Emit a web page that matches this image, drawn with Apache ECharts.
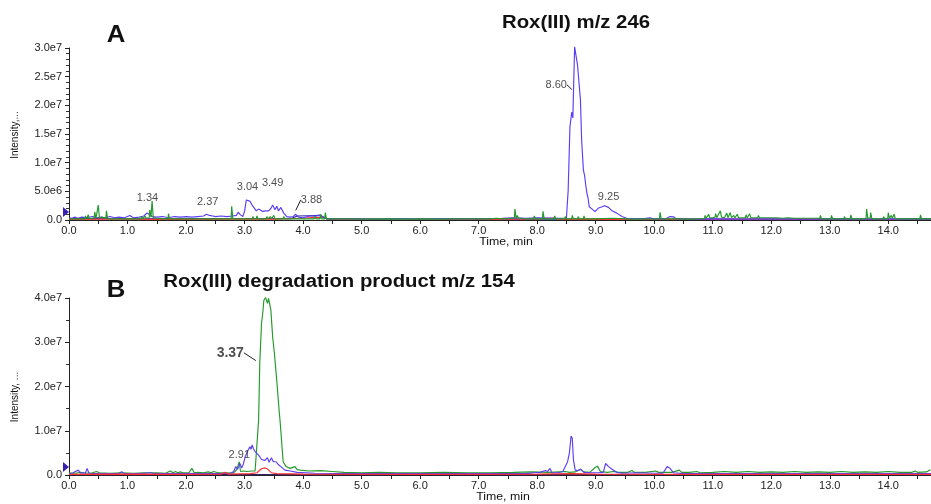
<!DOCTYPE html>
<html><head><meta charset="utf-8">
<script src="https://cdn.jsdelivr.net/npm/echarts@6/dist/echarts.min.js"></script>
<style>html,body{margin:0;padding:0;background:#fff}#c{width:931px;height:504px}</style>
</head><body><div id="c"></div>
<script>
// ---------- DATA (intensity in units of 1e6) ----------
// Panel A: Rox(III) m/z 246
var blueA_t = [0.00,0.05,0.10,0.15,0.22,0.30,0.40,0.48,0.55,0.62,0.70,0.78,0.85,0.95,1.04,1.10,1.20,1.28,1.33,1.37,1.42,1.50,1.60,1.70,1.80,1.90,2.00,2.10,2.20,2.30,2.35,2.40,2.50,2.60,2.70,2.80,2.86,2.89,2.93,2.97,3.00,3.03,3.05,3.09,3.13,3.16,3.20,3.24,3.27,3.31,3.36,3.41,3.45,3.48,3.52,3.55,3.58,3.62,3.67,3.72,3.78,3.83,3.87,3.92,4.00,4.08,4.15,4.22,4.27,4.33,4.40,4.50,4.80,5.20,5.60,6.00,6.50,7.00,7.40,7.60,7.80,8.00,8.20,8.30,8.40,8.50,8.53,8.56,8.59,8.61,8.64,8.66,8.69,8.71,8.74,8.76,8.79,8.81,8.83,8.85,8.87,8.89,8.94,8.99,9.05,9.11,9.15,9.22,9.28,9.36,9.45,9.53,9.65,9.80,9.93,9.98,10.20,10.27,10.33,10.38,10.60,11.00,11.50,12.00,12.50,13.00,13.50,14.00,14.73];
var blueA_v = [0.4,0.3,0.5,0.3,0.5,0.4,0.6,0.4,0.5,0.4,0.6,0.4,0.5,0.4,0.8,0.4,0.5,0.7,1.2,1.0,0.6,0.5,0.6,0.4,0.6,0.5,0.6,0.5,0.6,0.7,1.0,0.8,0.6,0.7,0.6,0.7,0.8,1.35,0.9,0.6,1.5,3.5,3.66,3.3,2.6,2.3,1.6,1.9,2.0,1.5,1.6,1.6,2.0,2.6,1.8,2.4,1.6,2.2,1.2,0.6,0.5,0.6,1.0,0.5,0.4,0.6,0.75,0.7,0.85,0.6,0.2,0.2,0.2,0.15,0.2,0.15,0.2,0.2,0.3,0.4,0.3,0.4,0.35,0.3,0.3,0.35,5.2,16.2,18.8,17.8,30.2,30.5,27.0,26.7,20.9,14.0,8.7,7.8,6.1,4.7,3.8,2.3,1.9,1.45,2.1,2.3,2.5,2.2,1.6,1.2,0.6,0.3,0.25,0.2,0.4,0.2,0.2,0.6,0.55,0.2,0.15,0.2,0.15,0.2,0.15,0.2,0.15,0.2,0.15];

var greenA_t = [0.00,0.04,0.05,0.07,0.17,0.18,0.20,0.27,0.28,0.30,0.32,0.33,0.35,0.39,0.40,0.42,0.43,0.44,0.46,0.49,0.50,0.52,0.55,0.56,0.58,0.63,0.64,0.66,0.71,0.72,0.74,0.80,0.81,0.83,0.89,0.90,0.92,1.04,1.05,1.07,1.14,1.15,1.17,1.23,1.24,1.26,1.29,1.30,1.32,1.37,1.38,1.40,1.41,1.42,1.44,1.49,1.50,1.52,1.61,1.62,1.64,1.69,1.70,1.72,1.79,1.80,1.82,1.97,1.98,2.00,2.09,2.10,2.12,2.24,2.25,2.27,2.41,2.42,2.44,2.54,2.55,2.57,2.64,2.65,2.67,2.77,2.78,2.80,2.87,2.88,2.90,2.94,2.95,2.97,3.06,3.07,3.09,3.13,3.14,3.16,3.20,3.21,3.23,3.29,3.30,3.32,3.37,3.38,3.40,3.43,3.44,3.46,3.49,3.50,3.52,3.57,3.58,3.60,3.66,3.67,3.69,3.79,3.80,3.82,3.94,3.95,3.97,4.09,4.10,4.12,4.19,4.20,4.22,4.29,4.30,4.32,4.37,4.38,4.40,4.49,4.50,4.52,4.80,5.10,5.40,5.70,6.00,6.30,6.60,6.90,7.20,7.30,7.32,7.44,7.45,7.47,7.54,7.55,7.57,7.61,7.62,7.64,7.65,7.66,7.68,7.74,7.75,7.77,7.84,7.85,7.87,7.94,7.95,7.97,8.09,8.10,8.12,8.19,8.20,8.22,8.29,8.30,8.32,8.39,8.40,8.42,8.47,8.48,8.50,8.59,8.60,8.62,8.69,8.70,8.72,8.79,8.80,8.82,8.89,8.90,8.92,8.99,9.00,9.02,9.30,9.32,9.59,9.60,9.62,9.79,9.80,9.82,10.09,10.10,10.12,10.39,10.40,10.42,10.59,10.60,10.62,10.74,10.75,10.77,10.86,10.87,10.89,10.92,10.93,10.95,10.97,10.98,11.00,11.04,11.05,11.07,11.10,11.13,11.15,11.17,11.18,11.20,11.23,11.24,11.26,11.29,11.30,11.32,11.35,11.36,11.38,11.41,11.42,11.44,11.49,11.50,11.52,11.56,11.57,11.59,11.62,11.63,11.65,11.69,11.70,11.72,11.77,11.78,11.80,11.84,11.85,11.87,11.92,11.93,11.95,11.99,12.00,12.02,12.09,12.10,12.12,12.19,12.20,12.22,12.29,12.30,12.32,12.39,12.40,12.42,12.51,12.52,12.54,12.61,12.62,12.64,12.74,12.75,12.77,12.83,12.84,12.86,12.91,12.92,12.94,13.02,13.03,13.05,13.14,13.15,13.17,13.24,13.25,13.27,13.35,13.36,13.38,13.44,13.45,13.47,13.62,13.63,13.65,13.69,13.70,13.72,13.79,13.80,13.82,13.91,13.92,13.94,13.99,14.00,14.02,14.04,14.05,14.07,14.09,14.10,14.12,14.19,14.20,14.22,14.34,14.35,14.37,14.54,14.55,14.57,14.64,14.65,14.67,14.73];
var greenA_v = [0.2,0.2,0.5,0.15,0.2,0.4,0.15,0.2,0.7,0.2,0.3,0.9,0.2,0.3,0.6,0.2,0.4,1.4,0.3,0.4,2.6,0.3,0.3,0.5,0.2,0.3,1.6,0.2,0.2,0.5,0.2,0.2,0.5,0.2,0.2,0.4,0.2,0.2,0.4,0.2,0.2,0.5,0.2,0.2,0.6,0.2,0.3,0.7,0.3,0.4,1.75,0.5,0.6,3.3,0.4,0.3,0.6,0.2,0.2,0.5,0.2,0.2,1.1,0.2,0.2,0.4,0.2,0.2,0.5,0.2,0.2,0.4,0.2,0.2,0.5,0.2,0.2,0.4,0.2,0.2,0.4,0.2,0.2,0.5,0.2,0.2,2.4,0.2,0.2,0.5,0.2,0.2,0.4,0.2,0.2,0.5,0.2,0.2,0.6,0.2,0.2,0.7,0.2,0.2,0.5,0.2,0.2,0.6,0.2,0.2,0.6,0.2,0.2,0.8,0.2,0.2,0.5,0.2,0.2,0.6,0.2,0.2,0.4,0.2,0.2,0.5,0.2,0.2,0.5,0.2,0.2,0.6,0.2,0.2,1.0,0.2,0.2,1.3,0.2,0.2,0.4,0.15,0.2,0.15,0.2,0.15,0.2,0.15,0.2,0.2,0.2,0.3,0.2,0.2,0.4,0.2,0.3,0.6,0.3,0.3,1.9,0.3,0.4,0.8,0.3,0.3,0.6,0.2,0.2,0.5,0.2,0.2,0.7,0.2,0.2,1.5,0.2,0.2,0.5,0.2,0.2,0.7,0.2,0.2,0.5,0.2,0.2,0.6,0.2,0.2,0.8,0.2,0.2,0.6,0.2,0.2,0.7,0.2,0.2,0.5,0.2,0.2,0.4,0.2,0.3,0.15,0.15,0.3,0.15,0.15,0.4,0.15,0.2,1.35,0.2,0.2,0.3,0.15,0.15,0.25,0.15,0.2,0.4,0.2,0.3,0.8,0.3,0.4,1.0,0.4,0.4,0.7,0.4,0.5,1.1,0.4,0.5,1.6,0.5,0.4,0.8,0.4,0.5,1.2,0.4,0.5,1.3,0.4,0.4,0.8,0.4,0.5,1.0,0.4,0.4,0.7,0.4,0.4,0.9,0.4,0.5,1.1,0.4,0.4,0.7,0.4,0.4,0.8,0.4,0.4,0.6,0.4,0.4,0.7,0.4,0.4,0.6,0.4,0.4,0.6,0.4,0.3,0.5,0.3,0.4,0.6,0.3,0.3,0.5,0.3,0.3,0.6,0.3,0.3,0.5,0.3,0.3,0.6,0.3,0.3,0.8,0.2,0.2,0.4,0.2,0.2,0.8,0.2,0.2,0.4,0.2,0.2,0.6,0.2,0.2,0.9,0.2,0.2,0.5,0.2,0.2,1.9,0.3,0.3,1.3,0.2,0.2,0.5,0.2,0.2,0.6,0.2,0.2,1.3,0.3,0.3,0.8,0.3,0.3,1.0,0.2,0.2,0.5,0.2,0.2,0.5,0.2,0.2,0.9,0.2,0.2,0.4,0.2,0.2];

var redA_t = [0.00,0.60,1.00,1.50,2.00,2.60,3.00,3.50,4.00,4.20,4.35,4.45,5.50,7.00,8.00,8.30,8.35,9.50,11.00,12.50,14.73];
var redA_v = [0.1,0.15,0.15,0.1,0.1,0.15,0.2,0.15,0.3,0.45,0.4,0.1,0.1,0.1,0.2,0.35,0.1,0.1,0.1,0.1,0.1];

var navyA_t = [0.00,1.50,3.00,3.80,3.90,4.10,4.30,4.40,8.00,11.00,14.73];
var navyA_v = [0.25,0.2,0.25,0.25,0.7,0.75,0.8,0.2,0.15,0.15,0.15];

// Panel B: Rox(III) degradation product m/z 154
var greenB_t = [0.00,0.10,0.20,0.30,0.40,0.47,0.52,0.70,0.90,1.10,1.30,1.50,1.65,1.73,1.78,1.82,1.86,1.90,1.95,2.05,2.10,2.14,2.20,2.30,2.38,2.43,2.47,2.55,2.70,2.81,2.87,2.91,2.93,2.98,3.04,3.12,3.18,3.21,3.24,3.26,3.29,3.31,3.33,3.36,3.39,3.41,3.45,3.48,3.51,3.55,3.59,3.61,3.64,3.66,3.71,3.78,3.86,3.90,3.95,4.10,4.30,4.50,4.70,5.00,5.30,5.60,6.00,6.40,6.80,7.20,7.60,7.90,8.20,8.48,8.55,8.65,8.74,8.80,8.90,8.99,9.03,9.08,9.20,9.30,9.40,9.55,9.62,9.66,9.85,10.02,10.08,10.30,10.43,10.47,10.60,10.73,10.78,11.00,11.20,11.40,11.60,11.80,12.00,12.20,12.40,12.60,12.80,13.00,13.20,13.40,13.60,13.80,14.00,14.20,14.40,14.46,14.50,14.65,14.72];
var greenB_v = [0.5,0.4,0.6,0.4,0.5,0.8,0.5,0.4,0.5,0.4,0.5,0.5,0.4,0.9,0.5,0.8,0.5,0.7,0.5,0.5,1.5,0.5,0.6,0.5,0.7,0.5,0.8,0.5,0.5,0.4,1.3,3.0,0.8,0.9,0.8,0.9,0.9,1.1,12.4,25.3,34.3,36.5,39.5,40.1,38.8,39.9,37.2,31.2,27.5,21.4,14.7,11.7,6.4,3.0,1.9,1.5,1.9,1.2,1.1,0.9,1.0,0.8,0.6,0.5,0.6,0.5,0.5,0.6,0.5,0.5,0.6,0.7,0.6,0.8,0.6,0.7,1.3,0.7,0.6,1.7,2.0,0.8,0.6,0.8,0.6,0.6,1.0,0.6,0.6,0.9,0.6,0.6,1.1,0.6,0.6,0.8,0.5,0.6,0.8,0.6,0.8,0.6,0.7,0.6,0.8,0.6,0.7,0.6,0.8,0.6,0.7,0.6,0.8,0.6,0.6,0.9,0.6,0.7,1.2];

var blueB_t = [0.00,0.06,0.10,0.13,0.16,0.20,0.24,0.28,0.31,0.34,0.45,0.60,0.85,0.90,0.94,1.20,1.41,1.45,2.00,2.50,2.75,2.81,2.85,2.88,2.92,2.95,2.98,3.01,3.05,3.09,3.11,3.13,3.15,3.18,3.21,3.24,3.29,3.32,3.35,3.39,3.42,3.46,3.49,3.54,3.58,3.62,3.69,3.78,3.90,4.20,5.00,6.00,7.00,7.82,7.95,8.05,8.14,8.18,8.22,8.25,8.36,8.44,8.48,8.52,8.55,8.58,8.60,8.62,8.65,8.70,8.74,8.80,8.90,9.05,9.13,9.17,9.22,9.28,9.36,9.45,9.70,10.00,10.15,10.22,10.27,10.33,10.50,11.00,14.73];
var blueB_v = [0.3,0.4,0.75,0.4,1.1,0.4,0.5,0.4,1.5,0.4,0.3,0.3,0.3,0.75,0.3,0.3,0.5,0.3,0.3,0.3,0.4,0.7,1.9,1.3,2.6,1.6,2.5,4.1,5.3,6.4,5.8,6.8,6.0,5.3,5.0,4.5,3.5,3.7,3.3,3.9,2.9,3.9,3.0,3.0,2.3,1.9,1.1,0.9,0.6,0.4,0.3,0.3,0.3,0.3,0.5,0.6,1.0,0.8,1.5,0.5,0.5,0.8,1.9,3.0,4.9,8.8,8.3,3.4,1.1,1.0,1.3,0.6,0.5,0.5,0.6,2.6,1.9,1.3,0.6,0.4,0.5,0.4,0.4,1.9,1.5,0.5,0.3,0.3,0.3];

var redB_t = [0.00,1.00,2.00,2.60,2.67,2.72,3.10,3.21,3.29,3.35,3.39,3.46,3.55,4.00,6.00,8.00,8.60,9.00,11.00,14.73];
var redB_v = [0.15,0.2,0.15,0.2,0.6,0.2,0.3,0.5,1.4,1.6,1.4,0.5,0.3,0.2,0.15,0.2,0.3,0.2,0.15,0.15];

var navyB_t = [0.00,14.73];
var navyB_v = [0.1,0.1];

// Peak labels: anchor time, anchor intensity, text
var peakA_t = [1.34, 2.37, 3.05, 3.48, 3.87, 8.60, 9.22];
var peakA_v = [1.2, 1.0, 3.66, 2.6, 1.6, 22.7, 2.2];
var peakA_txt = ['1.34','2.37','3.04','3.49','3.88','8.60','9.25'];
var peakB_t = [3.20, 2.91];
var peakB_v = [25.8, 3.0];
var peakB_txt = ['3.37','2.91'];

var xTickMax = 14.73;
var yMaxA = 30, yMaxB = 40;

// ---------- BUILD ----------
function pairs(t, v){ return t.map(function(x,i){ return [x, v[i]]; }); }
var FONT = 'Liberation Sans, Arial, sans-serif';
var C_BLUE = '#5b3ef4', C_GREEN = '#23992b', C_RED = '#ff3030', C_NAVY = '#2323a8';

function yFmt(v){
  if (v === 0) return '0.0';
  if (Math.abs(v / 5 - Math.round(v / 5)) > 1e-6) return '';
  return (v * 1e6).toExponential(1).replace('e+', 'e');
}
function xAxisCfg(gi){
  return {
    type:'value', gridIndex:gi, min:0, max:xTickMax, interval:0.5,
    axisLine:{show:true, onZero:false, lineStyle:{color:'#222', width:1}},
    axisTick:{show:true, length:4, lineStyle:{color:'#222'}},
    axisLabel:{interval:0, color:'#222', fontSize:11, fontFamily:FONT, margin:5, showMaxLabel:false,
      formatter:function(v){ return Math.abs(v - Math.round(v)) < 1e-6 ? v.toFixed(1) : ''; }},
    splitLine:{show:false}
  };
}
function yAxisCfg(gi, max, interval, minorSplit){
  return {
    type:'value', gridIndex:gi, min:0, max:max, interval:interval,
    axisLine:{show:true, lineStyle:{color:'#222', width:1}},
    axisTick:{show:true, length:4, lineStyle:{color:'#222'}},
    minorTick:{show:true, splitNumber:minorSplit, length:3, lineStyle:{color:'#333', width:1}},
    axisLabel:{color:'#222', fontSize:11, fontFamily:FONT, margin:7, formatter:yFmt},
    splitLine:{show:false}
  };
}
function trace(name, gi, t, v, color, z){
  return {type:'line', name:name, xAxisIndex:gi, yAxisIndex:gi, data:pairs(t,v), showSymbol:false, symbol:'none',
    clip:false, z:z, lineStyle:{color:color, width:1.15}, itemStyle:{color:color}, animation:false, silent:true};
}
function labelSeries(gi, t, v, txt, offs, leaders, fontCfg){
  return {
    type:'scatter', xAxisIndex:gi, yAxisIndex:gi, symbolSize:1, z:20, silent:true, animation:false,
    itemStyle:{color:'rgba(0,0,0,0)'},
    data:t.map(function(x,i){
      return {value:[x, v[i]], name:txt[i],
        labelLine:{show:!!leaders[i], lineStyle:{color:'#222', width:1}}};
    }),
    label:{show:true, position:'inside', formatter:'{b}', color:'#222', fontFamily:FONT,
      fontSize:fontCfg.size, fontWeight:fontCfg.weight},
    labelLayout:function(p){ var o = offs[p.dataIndex]; return {dx:o[0], dy:o[1]}; },
    labelLine:{show:false, smooth:false, length2:0}
  };
}
function gText(text, x, y, size, bold, sx, rot){
  return {type:'text', x:x, y:y, scaleX:sx || 1, rotation:rot || 0, z:50,
    style:{text:text, fill:'#111', font:(bold ? 'bold ' : '') + size + 'px ' + FONT,
      textAlign:'center', textVerticalAlign:'middle'}};
}

var chart = echarts.init(document.getElementById('c'), null, {renderer:'canvas'});
var option = {
  backgroundColor:'#fff',
  animation:false,
  graphic:[
    gText('A', 116, 36, 23, true, 1.12),
    gText('Rox(III) m/z 246', 576, 23, 18, true, 1.13),
    gText('B', 116, 291, 23, true, 1.12),
    gText('Rox(III) degradation product m/z 154', 339, 282, 18, true, 1.13),
    gText('Time, min', 506, 242, 11, false, 1.12),
    gText('Time, min', 503, 497, 11, false, 1.12),
    gText('Intensity,...', 15, 135, 10, false, 1, Math.PI/2),
    gText('Intensity, ...', 15, 397, 10, false, 1, Math.PI/2),
    {type:'polygon', shape:{points:[[63,207],[63,217],[69,212]]}, style:{fill:'#3a1fb0'}},
    {type:'polygon', shape:{points:[[63,462],[63,472],[69,467]]}, style:{fill:'#3a1fb0'}}
  ],
  grid:[
    {left:69, right:0, top:48, height:172},
    {left:69, right:0, top:298, height:177}
  ],
  xAxis:[xAxisCfg(0), xAxisCfg(1)],
  yAxis:[yAxisCfg(0, yMaxA, 5, 5), yAxisCfg(1, yMaxB, 10, 2)],
  series:[
    trace('navyA', 0, navyA_t, navyA_v, C_NAVY, 2),
    trace('redA', 0, redA_t, redA_v, C_RED, 3),
    trace('blueA', 0, blueA_t, blueA_v, C_BLUE, 4),
    trace('greenA', 0, greenA_t, greenA_v, C_GREEN, 5),
    trace('navyB', 1, navyB_t, navyB_v, '#3a2060', 2),
    trace('greenB', 1, greenB_t, greenB_v, C_GREEN, 3),
    trace('blueB', 1, blueB_t, blueB_v, C_BLUE, 4),
    trace('redB', 1, redB_t, redB_v, C_RED, 5),
    labelSeries(0, peakA_t, peakA_v, peakA_txt,
      [[0,-15],[0,-12],[0,-12],[0,-22],[16,-11],[-16,-5],[0,-10]],
      [0,0,0,0,1,1,0], {size:11, weight:'normal'}),
    labelSeries(1, peakB_t, peakB_v, peakB_txt,
      [[-26,-8],[0,-7]], [1,0], {size:14, weight:'bold'})
  ]
};
option.series[9].data[1].label = {fontSize:11, fontWeight:'normal'};
chart.setOption(option);
</script>
</body></html>
